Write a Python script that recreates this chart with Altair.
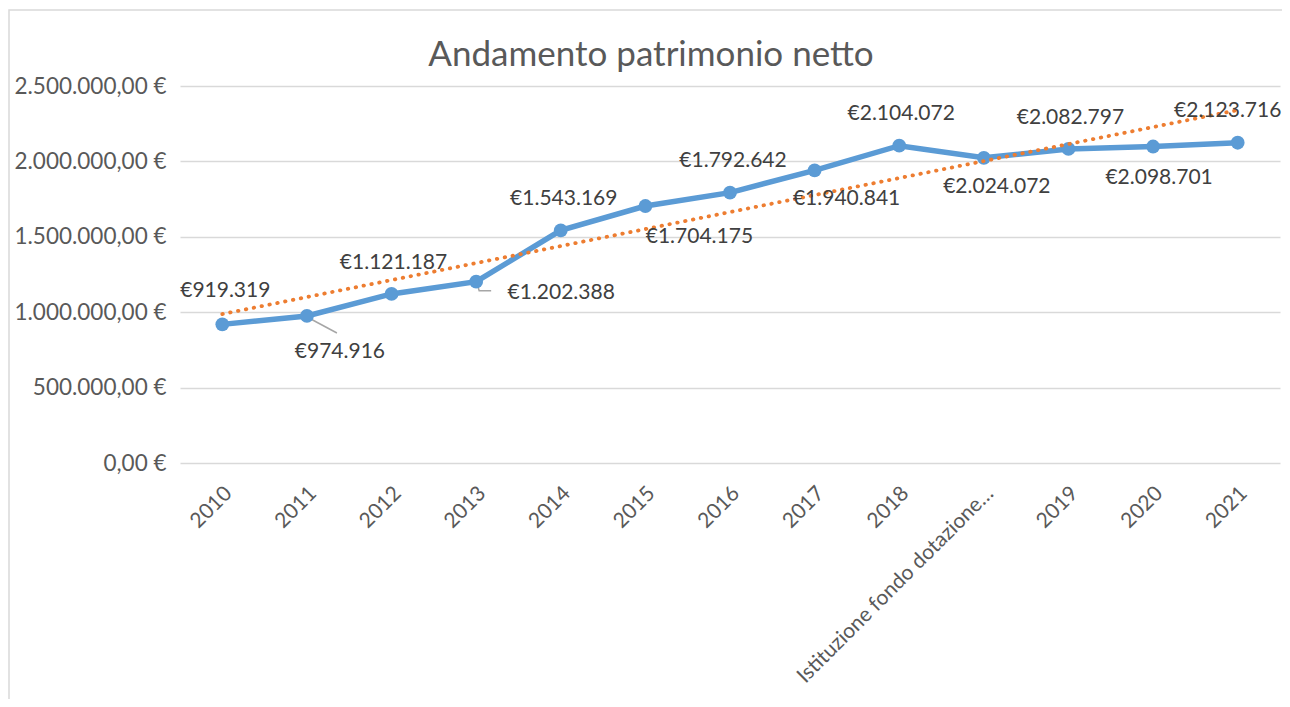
import json
import altair as alt
import pandas as pd

# ---- data ----
title_text = "Andamento patrimonio netto"
categories = ["2010", "2011", "2012", "2013", "2014", "2015", "2016", "2017",
              "2018", "Istituzione fondo dotazione…", "2019", "2020", "2021"]
values = [919319, 974916, 1121187, 1202388, 1543169, 1704175, 1792642,
          1940841, 2104072, 2024072, 2082797, 2098701, 2123716]
y_ticks = [0, 500000, 1000000, 1500000, 2000000, 2500000]

# ---- label placement (pixel offsets from each point, as Excel placed them) ----
label_dx = [3, 33, 2, 85, 3, 54, 3, 32, 2, 13, 2, 6, -10]
label_dy = [-33, 36, -31, 11, -31, 31, -32, 29, -32, 29, -31, 31, -32]
# leader lines: (category position, pixel dx, pixel dy) polyline vertices
leader_id = [2, 2, 4, 4, 4]
leader_dx = [2, 30, 1, 3, 15]
leader_dy = [2, 17, 2, 9, 9]

W, H = 1100, 377
YMAX = 2500000
PX_PER_IDX = W / 13.0
UNITS_PER_PX = YMAX / H

idx = list(range(1, len(categories) + 1))
df = pd.DataFrame({"idx": idx, "cat": categories, "value": values,
                   "ldx": label_dx, "ldy": label_dy})
leaders = pd.DataFrame({"lid": leader_id,
                        "order": list(range(len(leader_id))),
                        "value": [values[i - 1] for i in leader_id],
                        "ldx": leader_dx, "ldy": leader_dy})

label_expr = json.dumps(categories, ensure_ascii=False) + "[datum.value - 1]"

x_scale = alt.Scale(domain=[0.5, 13.5], nice=False, zero=False)
y_scale = alt.Scale(domain=[0, YMAX], nice=False)

x_axis = alt.Axis(values=idx, labelExpr=label_expr, labelAngle=315,
                  labelAlign="right", labelBaseline="middle", labelPadding=27,
                  labelOffset=6, labelFontSize=21, labelColor="#595959",
                  labelLimit=500, labelOverlap=False, ticks=False,
                  domain=False, grid=False, title=None)
y_axis = alt.Axis(values=y_ticks, format="$,.2f", labelFontSize=22.5,
                  labelColor="#595959", labelPadding=14, ticks=False,
                  domain=False, grid=True, gridColor="#d9d9d9", gridWidth=1.5,
                  title=None)

X = alt.X("idx:Q", scale=x_scale, axis=x_axis)
Y = alt.Y("value:Q", scale=y_scale, axis=y_axis)

base = alt.Chart(df)
one = pd.DataFrame({"t": [title_text]})

border = alt.Chart(one).mark_rect(
    fillOpacity=0, stroke="#d9d9d9", strokeWidth=1.5
).encode(x=alt.value(-171), x2=alt.value(1400), y=alt.value(-76), y2=alt.value(900))

title = alt.Chart(one).mark_text(
    fontSize=35, color="#595959", align="center", baseline="alphabetic"
).encode(x=alt.value(471), y=alt.value(-20), text="t:N")

line = base.mark_line(color="#5b9bd5", strokeWidth=5.5).encode(x=X, y=Y)
points = base.mark_circle(size=190, color="#5b9bd5", opacity=1).encode(x=X, y=Y)

trend = base.transform_regression("idx", "value").mark_line(
    color="#ed7d31", strokeWidth=3.8, strokeDash=[0.5, 7.5], strokeCap="round"
).encode(x=X, y=Y)

leader = alt.Chart(leaders).transform_calculate(
    lx=f"datum.lid + datum.ldx / {PX_PER_IDX}",
    ly=f"datum.value - datum.ldy * {UNITS_PER_PX}",
).mark_line(color="#a6a6a6", strokeWidth=1.5).encode(
    x=alt.X("lx:Q", scale=x_scale, axis=x_axis),
    y=alt.Y("ly:Q", scale=y_scale, axis=y_axis),
    detail="lid:N",
    order="order:Q",
)

labels = base.transform_calculate(
    label="'€' + format(datum.value, ',.0f')",
    lx=f"datum.idx + datum.ldx / {PX_PER_IDX}",
    ly=f"datum.value - datum.ldy * {UNITS_PER_PX}",
).mark_text(fontSize=21, color="#404040", align="center", baseline="middle").encode(
    x=alt.X("lx:Q", scale=x_scale, axis=x_axis),
    y=alt.Y("ly:Q", scale=y_scale, axis=y_axis),
    text="label:N",
)

chart = alt.layer(border, title, line, leader, points, trend, labels).properties(
    width=W, height=H,
    autosize=alt.AutoSizeParams(type="none"),
    padding={"left": 172, "top": 78, "right": 2, "bottom": 236},
).configure(
    font="Lato",
    locale={"number": {"decimal": ",", "thousands": ".", "grouping": [3],
                       "currency": ["", " €"]}},
).configure_view(strokeWidth=0)

chart.save("out.html", embed_options={"renderer": "svg", "actions": False})
